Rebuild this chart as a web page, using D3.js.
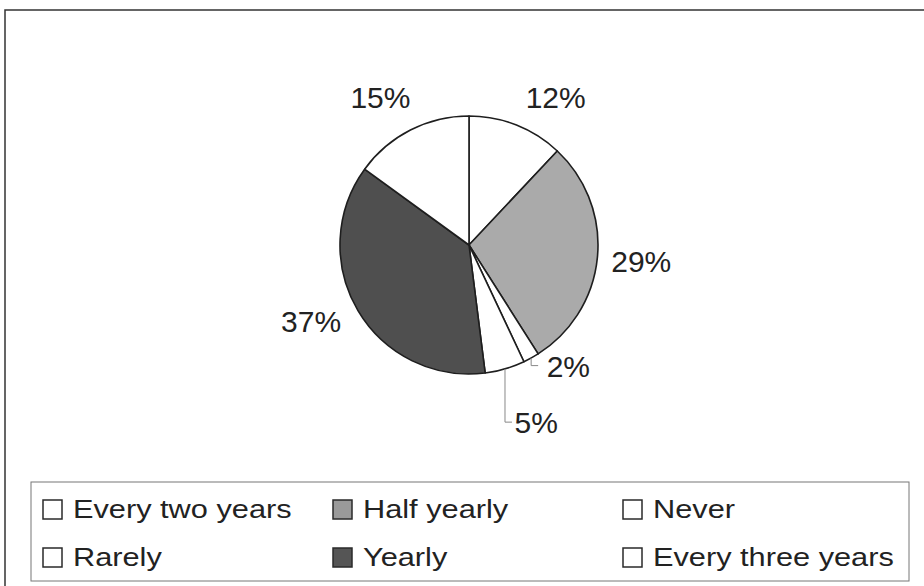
<!DOCTYPE html>
<html>
<head>
<meta charset="utf-8">
<script src="https://cdn.jsdelivr.net/npm/d3@7/dist/d3.min.js"></script>
<style>
  body { margin: 0; background: #fff; }
  text { font-family: "Liberation Sans", Arial, sans-serif; fill: #222; }
</style>
</head>
<body>
<script>
var w = 924;
var h = 586;

// data, in drawing order (clockwise from 12 o'clock)
var categories = ["Every two years", "Half yearly", "Never", "Rarely", "Yearly", "Every three years"];
var values = [12, 29, 2, 5, 37, 15];
var fills = ["#ffffff", "#aaaaaa", "#ffffff", "#ffffff", "#4f4f4f", "#ffffff"];

// legend reading order (row by row, 3 columns)
var legendOrder = ["Every two years", "Half yearly", "Never", "Rarely", "Yearly", "Every three years"];

// label nudges away from the default arc position (dx, dy)
var labelNudge = [[23, 13], [0, 0], [16, -31], [19, 11], [-9, -12], [-10, 6]];
var leaderFor = [false, false, true, true, false, false];

var cx = 469, cy = 245, r = 129;
var labelR = 173;
var labelSize = 30;

var svg = d3.select("body")
    .append("svg")
    .attr("width", w)
    .attr("height", h);

//---frame-----
svg.append("rect")
    .attr("x", 5)
    .attr("y", 10)
    .attr("width", 940)
    .attr("height", 600)
    .attr("fill", "none")
    .attr("stroke", "#333")
    .attr("stroke-width", 1.5);

//---pie-----
var pie = d3.pie().sort(null).value(function (d) { return d; });
var arcs = pie(values);
var arc = d3.arc().innerRadius(0).outerRadius(r);
var labelArc = d3.arc().innerRadius(labelR).outerRadius(labelR);
var edgeArc = d3.arc().innerRadius(r).outerRadius(r);

var g = svg.append("g").attr("transform", "translate(" + cx + "," + cy + ")");

g.selectAll("path.slice")
    .data(arcs)
    .enter()
    .append("path")
    .attr("class", "slice")
    .attr("d", arc)
    .attr("fill", function (d, i) { return fills[i]; })
    .attr("stroke", "#1e1e1e")
    .attr("stroke-width", 1.6)
    .attr("stroke-linejoin", "round");

//---labels-----
arcs.forEach(function (d, i) {
    var c = labelArc.centroid(d);
    var lx = c[0] + labelNudge[i][0];
    var ly = c[1] + labelNudge[i][1];
    var t = g.append("text")
        .text(values[i] + "%")
        .attr("x", lx)
        .attr("y", ly + 11)
        .attr("text-anchor", "middle")
        .attr("font-size", labelSize);

    if (leaderFor[i]) {
        var half = t.node().getComputedTextLength() / 2;
        var mid = (d.startAngle + d.endAngle) / 2;
        var p0 = [Math.sin(mid) * r, -Math.cos(mid) * r];
        var left = lx - half;
        var endX = Math.max(p0[0] + 7, left - 10);
        g.append("path")
            .attr("d", "M" + p0[0] + "," + p0[1] +
                       "L" + p0[0] + "," + ly +
                       "L" + endX + "," + ly)
            .attr("fill", "none")
            .attr("stroke", "#888")
            .attr("stroke-width", 1);
    }
});

//---legend-----
svg.append("rect")
    .attr("x", 31)
    .attr("y", 482)
    .attr("width", 878)
    .attr("height", 99)
    .attr("fill", "none")
    .attr("stroke", "#777")
    .attr("stroke-width", 1);

var colW = 290;
legendOrder.forEach(function (name, k) {
    var i = categories.indexOf(name);
    var col = k % 3, row = Math.floor(k / 3);
    var x0 = 43 + col * colW;
    var y0 = 500 + row * 48;

    svg.append("rect")
        .attr("x", x0)
        .attr("y", y0)
        .attr("width", 19)
        .attr("height", 19)
        .attr("fill", fills[i] === "#aaaaaa" ? "#9a9a9a" : fills[i] === "#4f4f4f" ? "#555555" : "#ffffff")
        .attr("stroke", "#2a2a2a")
        .attr("stroke-width", 1.5);

    svg.append("g")
        .attr("transform", "translate(" + (x0 + 30) + "," + (y0 + 18) + ") scale(1.16,1)")
        .append("text")
        .text(name)
        .attr("x", 0)
        .attr("y", 0)
        .attr("font-size", 26.5);
});
</script>
</body>
</html>
